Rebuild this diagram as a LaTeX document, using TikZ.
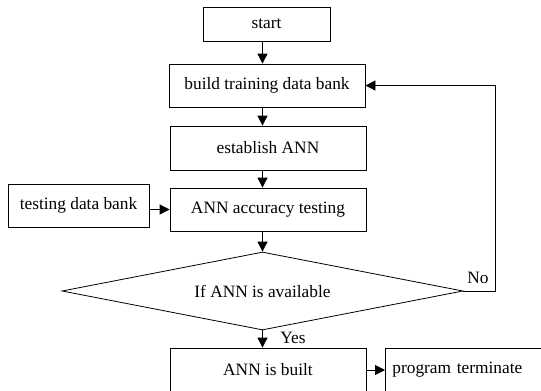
\documentclass[tikz,border=0pt]{standalone}
\usepackage{fontspec}
\setmainfont{Liberation Serif}
\usetikzlibrary{arrows.meta,shapes.geometric}
\begin{document}
\begin{tikzpicture}[x=0.75pt,y=-0.75pt,
  every node/.style={font=\fontsize{13}{15}\selectfont},
  box/.style={draw,line width=0.6pt,rectangle,inner sep=0pt},
  conn/.style={line width=0.6pt,-{Triangle[length=7.5pt,width=7.5pt]}},
  plain/.style={line width=0.6pt}]
\useasboundingbox (0,0) rectangle (541,390);
\node[box,minimum width=95.25pt,minimum height=25.5pt] (start) at (266.5,24) {start};
\node[box,minimum width=147pt,minimum height=32.25pt] (build) at (267,85.5) {build training data bank};
\node[box,minimum width=147pt,minimum height=33pt] (est) at (268,148) {establish ANN};
\node[box,minimum width=147pt,minimum height=32.25pt] (acc) at (268,209.5) {ANN accuracy testing};
\node[box,minimum width=105.75pt,minimum height=32.25pt] (test) at (78.5,205.5) {testing data bank};
\node[draw,line width=0.6pt,diamond,inner sep=0pt,aspect=5.14,minimum width=300.75pt,minimum height=58.5pt] (dia) at (262.5,291) {If ANN is available};
\node[box,minimum width=147pt,minimum height=33pt] (built) at (268,370) {ANN is built};
\node[box,anchor=west,inner xsep=5.25pt,text width=120pt,align=left,minimum height=33pt] (term) at (385,370) {program terminate};
\coordinate (loop) at (495,291);
\node (no) at (478,278) {No};
\node (yes) at (293,338) {Yes};
\draw[conn] (start.south -| dia.north) -- (build.north -| dia.north);
\draw[conn] (build.south -| dia.north) -- (est.north -| dia.north);
\draw[conn] (est.south -| dia.north) -- (acc.north -| dia.north);
\draw[conn] (test.east |- acc.west) -- (acc.west);
\draw[conn] (acc.south -| dia.north) -- (dia.north);
\draw[conn] (dia.south) -- (dia.south |- built.north);
\draw[conn] (built.east) -- (term.west);
\draw[conn] (dia.east) -- (loop) |- (build.east);
\end{tikzpicture}
\end{document}
